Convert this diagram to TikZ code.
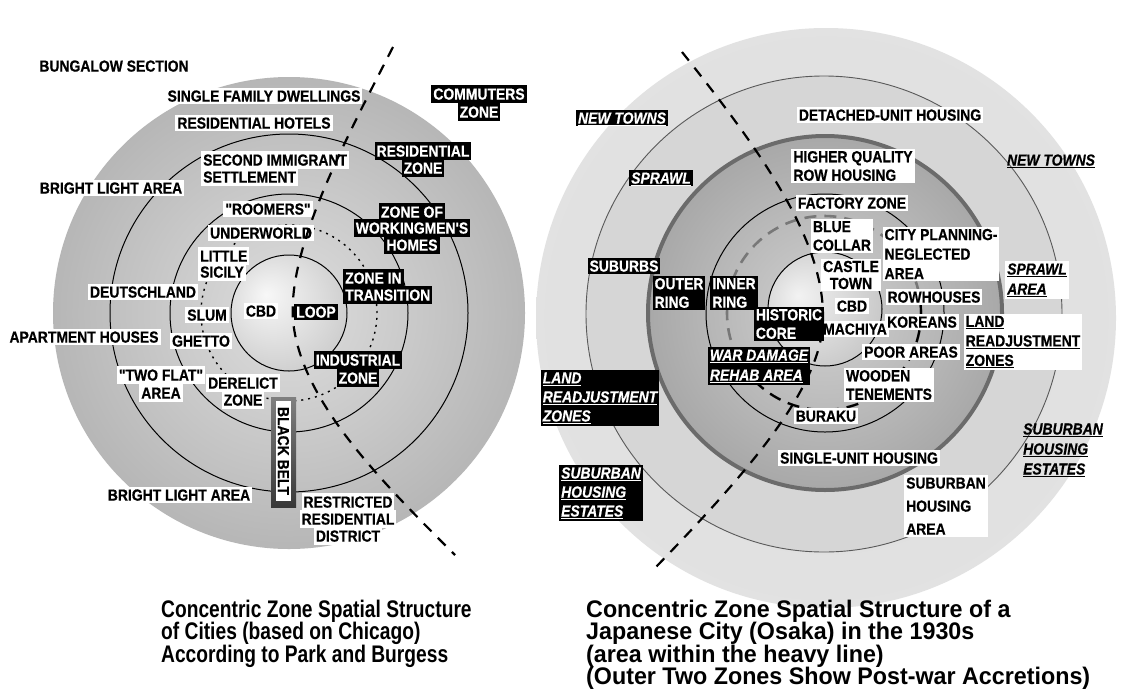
\documentclass[tikz,border=0pt]{standalone}
\usepackage{fontspec}
\setmainfont{Liberation Sans}
\newfontfamily\lblfont[FakeStretch=0.87,FakeBold=0.6]{Liberation Sans}
\newfontfamily\capLfont[FakeStretch=0.8]{Liberation Sans}
\newfontfamily\capRfont[FakeStretch=0.97]{Liberation Sans}
\newcommand\uln[1]{\underline{#1}}
\definecolor{ringR}{gray}{0.84}
\definecolor{heavyR}{gray}{0.42}
\definecolor{lineA}{gray}{0.35}
\definecolor{dashR}{gray}{0.47}
\definecolor{beltTop}{gray}{0.50}
\definecolor{beltBot}{gray}{0.22}
\pgfdeclareradialshading{diskL}{\pgfpoint{0bp}{0bp}}{rgb(0bp)=(0.87,0.87,0.87); rgb(50bp)=(0.56,0.56,0.56)}
\pgfdeclareradialshading{ballL}{\pgfpoint{-10bp}{8bp}}{rgb(0bp)=(0.97,0.97,0.97); rgb(50bp)=(0.70,0.70,0.70)}
\pgfdeclareradialshading{diskR}{\pgfpoint{0bp}{0bp}}{rgb(0bp)=(0.82,0.82,0.82); rgb(50bp)=(0.50,0.50,0.50)}
\pgfdeclareradialshading{outerR}{\pgfpoint{0bp}{0bp}}{rgb(0bp)=(0.86,0.86,0.86); rgb(40bp)=(0.90,0.90,0.90); rgb(50bp)=(0.95,0.95,0.95)}
\pgfdeclareradialshading{ballR}{\pgfpoint{-12bp}{6bp}}{rgb(0bp)=(0.95,0.95,0.95); rgb(50bp)=(0.68,0.68,0.68)}
\begin{document}
\begin{tikzpicture}[x=1pt,y=-1pt,
  lb/.style={inner xsep=2pt, font=\lblfont\bfseries\fontsize{16}{18.5}\selectfont},
  lone/.style={lb, text height=11.6pt, text depth=0.4pt, inner ysep=1.8pt},
  lrow/.style={lb, text height=11.6pt, text depth=0.4pt, inner ysep=2.6pt},
  lmulti/.style={lb, inner ysep=2pt},
  wf/.style={fill=white, text=black},
  bf/.style={fill=black, text=white},
  pf/.style={text=black},
  dashln/.style={line width=2.2pt, dash pattern=on 11pt off 9pt},
  ringln/.style={line width=1pt, draw=black},
  dcirc/.style={line width=2.6pt, dash pattern=on 12pt off 8pt},
]
\useasboundingbox (0,0) rectangle (1121,699);
\fill[white] (0,0) rectangle (1121,699);

% ---------------- left diagram ----------------
\shade[shading=diskL] (289,313) circle (236pt);
\draw[ringln] (289,313) circle (179pt);
\draw[ringln] (289,313) circle (119pt);
\draw[line width=1.4pt, dash pattern=on 2pt off 5pt] (289,313) circle (88pt);
\shade[shading=ballL] (289,313) circle (58pt);
\draw[ringln] (289,313) circle (58pt);

\shade[top color=beltTop, bottom color=beltBot] (271,397) rectangle (296,507);

\node[lone,pf] (bung) at (114,66) {BUNGALOW SECTION};
\node[lone,wf] (sfd) at (264,96) {SINGLE FAMILY DWELLINGS};
\node[lone,wf] (rh) at (254,123) {RESIDENTIAL HOTELS};
\node[lrow,wf,anchor=west] (sis1) at (201,160) {SECOND IMMIGRANT};
\node[lrow,wf,anchor=west] (sis2) at (201,177) {SETTLEMENT};
\node[lone,wf] (bla1) at (111,188) {BRIGHT LIGHT AREA};
\node[lone,wf] (roo) at (268,209) {"ROOMERS"};
\node[lone,wf] (uw) at (261,233) {UNDERWORLD};
\node[lrow,wf,anchor=west] (ls1) at (198,256) {LITTLE};
\node[lrow,wf,anchor=west] (ls2) at (198,272) {SICILY};
\node[lone,wf] (deu) at (143,292) {DEUTSCHLAND};
\node[lone,wf] (slum) at (207,315) {SLUM};
\node[lone,wf] (cbdL) at (261,311) {CBD};
\node[lone,bf] (loop) at (316,312) {LOOP};
\node[lone,wf] (apt) at (84,337) {APARTMENT HOUSES};
\node[lone,wf] (ghe) at (201,341) {GHETTO};
\node[lrow,wf] (tf1) at (161,375) {"TWO FLAT"};
\node[lrow,wf] (tf2) at (161,393) {AREA};
\node[lrow,wf] (de1) at (243,383) {DERELICT};
\node[lrow,wf] (de2) at (243,400) {ZONE};
\node[lrow,bf,anchor=west] (zt1) at (343,278) {ZONE IN};
\node[lrow,bf,anchor=west] (zt2) at (343,295) {TRANSITION};
\node[lrow,bf] (in1) at (358,360) {INDUSTRIAL};
\node[lrow,bf] (in2) at (358,378) {ZONE};
\node[lrow,bf] (co1) at (479,94) {COMMUTERS};
\node[lrow,bf] (co2) at (479,112) {ZONE};
\node[lrow,bf] (re1) at (423,151) {RESIDENTIAL};
\node[lrow,bf] (re2) at (423,168) {ZONE};
\node[lrow,bf] (zw1) at (412,212) {ZONE OF};
\node[lrow,bf] (zw2) at (412,228) {WORKINGMEN'S};
\node[lrow,bf] (zw3) at (412,245) {HOMES};
\node[lone,wf] (bla2) at (179,495) {BRIGHT LIGHT AREA};
\node[lrow,wf] (rr1) at (348,502) {RESTRICTED};
\node[lrow,wf] (rr2) at (348,519) {RESIDENTIAL};
\node[lrow,wf] (rr3) at (348,536) {DISTRICT};
\node[lone,wf,rotate=-90,minimum width=100pt] (belt) at (283.5,451) {BLACK BELT};

\coordinate (dLa) at (393,47);
\coordinate (dLb) at (293,320);
\coordinate (dLc) at (455,555);
\draw[dashln] (dLa) .. controls (340,150) and (288,250) .. (dLb) .. controls (300,400) and (380,480) .. (dLc);

% ---------------- right diagram ----------------
\shade[shading=outerR] (826,318) circle (290pt);
\fill[ringR] (824,314) circle (238pt);
\draw[line width=0.9pt, draw=lineA] (824,314) circle (238pt);
\shade[shading=diskR] (825,313) circle (177pt);
\draw[line width=4pt, draw=heavyR] (825,313) circle (177pt);
\draw[ringln] (825,313) circle (119pt);
\draw[dcirc, draw=dashR] (824,313) circle (97pt);
\begin{scope}
  \clip (824,313) -- (700,385) -- (700,450) -- (960,450) -- (960,290) -- cycle;
  \draw[dcirc, draw=black, line width=2.2pt] (824,313) circle (97pt);
\end{scope}
\shade[shading=ballR] (825,309) circle (57pt);
\draw[ringln] (825,309) circle (57pt);

\node[lone,bf] (nt1) at (622,118) {\itshape\uln{NEW TOWNS}};
\node[lone,bf] (spr) at (661,178) {\itshape\uln{SPRAWL}};
\node[lone,wf] (duh) at (890,115) {DETACHED-UNIT HOUSING};
\node[lone,pf] (nt2) at (1051,160) {\itshape\uln{NEW TOWNS}};
\node[lmulti,wf,align=left] (hq) at (853,166) {HIGHER QUALITY\\ROW HOUSING};
\node[lone,wf] (fz) at (852,203) {FACTORY ZONE};
\node[lmulti,wf,align=left] (bc) at (842,236) {BLUE\\COLLAR};
\node[lmulti,wf,align=left,font=\lblfont\bfseries\fontsize{16}{19.5}\selectfont] (cp) at (941,254) {CITY PLANNING-\\NEGLECTED\\AREA};
\node[lmulti,wf,align=center,font=\lblfont\bfseries\fontsize{16}{17}\selectfont] (ct) at (851,275) {CASTLE\\TOWN};
\node[lone,wf] (cbdR) at (852,306) {CBD};
\node[lone,wf] (rowh) at (934,297) {ROWHOUSES};
\node[lone,wf] (mach) at (855,329) {MACHIYA};
\node[lone,wf] (kor) at (922,322) {KOREANS};
\node[lmulti,wf,align=left,font=\lblfont\bfseries\fontsize{16}{19.5}\selectfont] (lrz2) at (1023,342) {\uln{LAND}\\\uln{READJUSTMENT}\\\uln{ZONES}};
\node[lmulti,wf,align=left,font=\lblfont\bfseries\fontsize{16}{20}\selectfont] (spa) at (1037,280) {\itshape\uln{SPRAWL}\\\itshape\uln{AREA}};
\node[lone,wf] (poor) at (911,352) {POOR AREAS};
\node[lmulti,wf,align=left] (wood) at (889,385) {WOODEN\\TENEMENTS};
\node[lone,wf] (bur) at (826,416) {BURAKU};
\node[lone,wf] (suh) at (859,458) {SINGLE-UNIT HOUSING};
\node[lmulti,wf,align=left,font=\lblfont\bfseries\fontsize{16}{23}\selectfont] (sha) at (946,506) {SUBURBAN\\HOUSING\\AREA};
\node[lmulti,pf,align=left,font=\lblfont\bfseries\fontsize{16}{20}\selectfont] (she2) at (1063,450) {\itshape\uln{SUBURBAN}\\\itshape\uln{HOUSING}\\\itshape\uln{ESTATES}};
\node[lone,bf] (sub) at (624,266) {SUBURBS};
\node[lmulti,bf,align=left] (outr) at (679,293) {OUTER\\RING};
\node[lmulti,bf,align=left] (innr) at (734,293) {INNER\\RING};
\node[lmulti,bf,align=left] (hist) at (789,324) {HISTORIC\\CORE};
\node[lmulti,bf,align=left,font=\lblfont\bfseries\fontsize{16}{20}\selectfont] (war) at (759,366) {\itshape\uln{WAR DAMAGE}\\\itshape\uln{REHAB AREA}};
\node[lmulti,bf,align=left,font=\lblfont\bfseries\fontsize{16}{19}\selectfont] (lrz1) at (600,398) {\itshape\uln{LAND}\\\itshape\uln{READJUSTMENT}\\\itshape\uln{ZONES}};
\node[lmulti,bf,align=left,font=\lblfont\bfseries\fontsize{16}{19}\selectfont] (she1) at (601,493) {\itshape\uln{SUBURBAN}\\\itshape\uln{HOUSING}\\\itshape\uln{ESTATES}};

\coordinate (dRa) at (682,52);
\coordinate (dRb) at (823,320);
\coordinate (dRc) at (655,568);
\draw[dashln] (dRa) .. controls (760,150) and (825,240) .. (dRb) .. controls (822,390) and (740,480) .. (dRc);

% ---------------- captions ----------------
\node[anchor=north west, inner sep=0pt, align=left, font={\capLfont\bfseries\fontsize{24}{22.3}\selectfont\lineskiplimit=-20pt}] (capL) at (161,600)
  {Concentric Zone Spatial Structure\\of Cities (based on Chicago)\\According to Park and Burgess};
\node[anchor=north west, inner sep=0pt, align=left, font={\capRfont\bfseries\fontsize{24}{22.3}\selectfont\lineskiplimit=-20pt}] (capR) at (586,600)
  {Concentric Zone Spatial Structure of a\\Japanese City (Osaka) in the 1930s\\(area within the heavy line)\\(Outer Two Zones Show Post-war Accretions)};
\end{tikzpicture}
\end{document}
